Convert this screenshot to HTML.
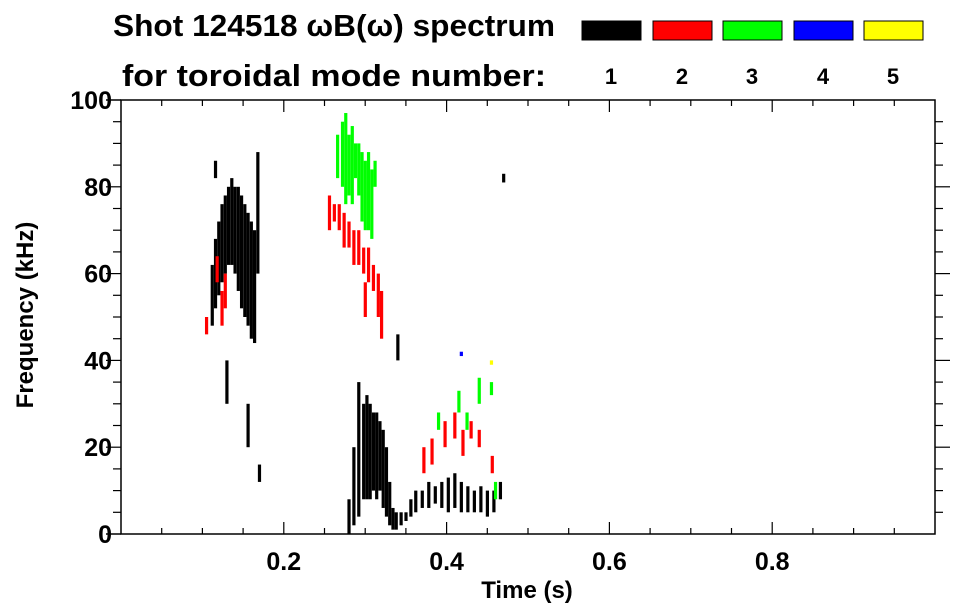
<!DOCTYPE html>
<html><head><meta charset="utf-8"><style>
body{margin:0;background:#fff}
svg{display:block;font-family:"Liberation Sans",sans-serif;font-weight:bold}
</style></head><body>
<svg id="c" width="963" height="615" viewBox="0 0 963 615">
<text x="113" y="36" font-size="31" textLength="442" lengthAdjust="spacingAndGlyphs">Shot 124518 ωB(ω) spectrum</text>
<text x="122" y="86" font-size="31" textLength="424" lengthAdjust="spacingAndGlyphs">for toroidal mode number:</text>
<g id="legend"></g>
<g id="marks"></g>
<g id="axes"></g>
<text x="527" y="598" font-size="24" text-anchor="middle">Time (s)</text>
<text transform="translate(33,315) rotate(-90)" font-size="24" text-anchor="middle">Frequency (kHz)</text>
</svg>
<script>
const modes=[1,2,3,4,5];
const modeColors=['#000','#f00','#0f0','#00f','#ff0'];
const xTicks=[0.2,0.4,0.6,0.8];
const yTicks=[0,20,40,60,80,100];
// strips: mode, time, fLow, fHigh
const sMode=[1,1,1,1,1,1,1,1,1,1,1,1,1,1,1,1,2,2,2,2,1,1,
 3,3,3,3,3,3,3,3,3,3,3,3,2,2,2,2,2,2,2,2,2,2,2,2,2,
 1,1,1,1,1,1,1,1,1,1,1,1,1,1,1,1,1,1,1,1,1,1,1,1,1,1,1,1,1,1,
 2,2,2,2,2,2,2,2,3,3,3,3,3,3,1,4,5,1,1,1];
const sT=[0.112,0.116,0.12,0.124,0.128,0.132,0.136,0.14,0.144,0.148,0.152,0.156,0.16,0.164,0.168,0.116,0.105,0.118,0.124,0.128,0.13,0.156,
 0.266,0.272,0.276,0.28,0.284,0.288,0.292,0.296,0.3,0.304,0.308,0.312,0.256,0.262,0.268,0.274,0.28,0.286,0.292,0.298,0.304,0.31,0.316,0.32,0.3,
 0.28,0.286,0.292,0.298,0.302,0.306,0.31,0.314,0.318,0.322,0.326,0.33,0.334,0.338,0.344,0.35,0.356,0.362,0.37,0.378,0.386,0.394,0.402,0.41,0.418,0.426,0.434,0.442,0.45,0.458,
 0.372,0.382,0.398,0.41,0.42,0.43,0.44,0.456,0.39,0.415,0.425,0.44,0.455,0.46,0.466,0.418,0.455,0.47,0.17,0.34];
const sLo=[48,52,55,58,60,62,62,60,56,52,50,48,45,44,60,82,46,58,48,52,30,20,
 82,80,76,78,76,82,78,72,70,70,68,80,70,72,70,66,66,62,62,60,58,56,50,45,50,
 0,2,4,8,8,8,10,8,10,6,4,2,1,1,2,3,4,5,6,6,7,6,5,6,5,5,5,5,4,5,
 14,16,20,22,18,22,20,14,24,28,24,30,32,8,8,41,39,81,12,40];
const sHi=[62,68,72,76,78,80,82,80,80,78,76,74,72,70,88,86,50,64,56,60,40,30,
 92,95,97,92,94,90,90,88,86,88,84,86,78,76,76,74,72,70,70,66,66,62,60,56,58,
 8,20,35,30,32,30,28,28,26,24,20,12,6,5,5,5,8,10,10,12,11,12,13,14,12,11,10,11,10,10,
 20,22,26,28,24,26,24,18,28,33,28,36,35,12,12,42,40,83,16,46];
const X=t=>121+814*t, Y=f=>534-4.34*f;
const NS='http://www.w3.org/2000/svg';
const mk=(tag,attrs,par)=>{const e=document.createElementNS(NS,tag);for(const k in attrs)e.setAttribute(k,attrs[k]);par.appendChild(e);return e;};
const marks=document.getElementById('marks');
for(let i=0;i<sT.length;i++){
 const r=mk('rect',{x:X(sT[i])-1.5,y:Y(sHi[i]),width:3.2,height:Y(sLo[i])-Y(sHi[i]),fill:modeColors[sMode[i]-1]},marks);
 
 
}
const lg=document.getElementById('legend');
const lx=[582,653,723,794,864];
modes.forEach((m,i)=>{
 const r=mk('rect',{x:lx[i],y:21,width:59,height:19,fill:modeColors[i],stroke:'#000','stroke-width':1},lg);
 
 
 const t=mk('text',{x:lx[i]+29,y:84,'font-size':22,'text-anchor':'middle'},lg);t.textContent=m;
 
 
});
const ax=document.getElementById('axes');
mk('rect',{x:121,y:100,width:814,height:434,fill:'none',stroke:'#000','stroke-width':1.5},ax);
mk('line',{x1:106,y1:534,x2:121,y2:534,stroke:'#000','stroke-width':1.5},ax);
for(let t=0.05;t<1;t+=0.05){const big=Math.abs(t*10-Math.round(t*10))<1e-6&&Math.round(t*10)%2==0;const L=big?12:6;
 mk('line',{x1:X(t),y1:534,x2:X(t),y2:534-L,stroke:'#000','stroke-width':1.2},ax);
 mk('line',{x1:X(t),y1:100,x2:X(t),y2:100+L,stroke:'#000','stroke-width':1.2},ax);}
for(let f=5;f<100;f+=5){const big=f%20==0;const L=big?15:8;
 mk('line',{x1:121-L,y1:Y(f),x2:121,y2:Y(f),stroke:'#000','stroke-width':1.2},ax);
 mk('line',{x1:935,y1:Y(f),x2:935+L,y2:Y(f),stroke:'#000','stroke-width':1.2},ax);}
mk('line',{x1:106,y1:100,x2:121,y2:100,stroke:'#000','stroke-width':1.5},ax);
xTicks.forEach(v=>{const t=mk('text',{x:X(v),y:570,'font-size':25,'text-anchor':'middle'},ax);t.textContent=v.toFixed(1);
 
 });
yTicks.forEach(v=>{const t=mk('text',{x:112,y:Y(v)+9,'font-size':25,'text-anchor':'end'},ax);t.textContent=v;
 
 });
</script>
</body></html>
